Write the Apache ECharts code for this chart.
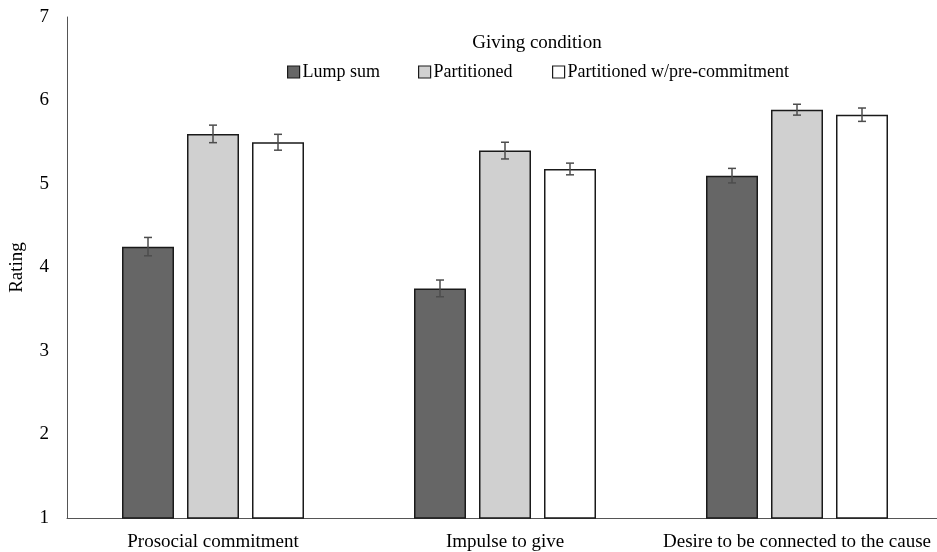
<!DOCTYPE html>
<html>
<head>
<meta charset="utf-8">
<script src="https://cdn.jsdelivr.net/npm/echarts@6/dist/echarts.min.js"></script>
<style>
html,body{margin:0;padding:0;background:#fff;overflow:hidden;width:937px;height:552px;}
#chart{width:943px;height:552px;}
</style>
</head>
<body>
<div id="chart"></div>
<script>
var categories = ['Prosocial commitment', 'Impulse to give', 'Desire to be connected to the cause'];
var seriesNames = ['Lump sum', 'Partitioned', 'Partitioned w/pre-commitment'];
var lumpSum = [4.25, 3.75, 5.10];
var partitioned = [5.60, 5.40, 5.89];
var preCommit = [5.50, 5.18, 5.83];
var lumpSumErr = [0.11, 0.10, 0.087];
var partitionedErr = [0.105, 0.10, 0.065];
var preCommitErr = [0.095, 0.07, 0.08];
var yTicks = [1, 2, 3, 4, 5, 6, 7];

var values = [lumpSum, partitioned, preCommit];
var errors = [lumpSumErr, partitionedErr, preCommitErr];
var fills = ['#666666', '#d0d0d0', '#ffffff'];
var legendLefts = [287, 418, 552];
var BAR_W = 52, BAR_GAP = 13;

var chart = echarts.init(document.getElementById('chart'));
var font = '"Liberation Serif", "Times New Roman", serif';

var series = [];
seriesNames.forEach(function (name, i) {
  series.push({
    name: name,
    type: 'bar',
    data: values[i],
    barWidth: BAR_W,
    barGap: (BAR_GAP / BAR_W * 100) + '%',
    itemStyle: { color: fills[i], borderColor: '#1a1a1a', borderWidth: 1.5 },
    emphasis: { disabled: true }
  });
});
seriesNames.forEach(function (name, i) {
  series.push({
    type: 'custom',
    silent: true,
    z: 10,
    data: values[i].map(function (v, k) { return [k, v - errors[i][k], v + errors[i][k]]; }),
    renderItem: function (params, api) {
      var c = api.value(0);
      var lo = api.coord([c, api.value(1)]);
      var hi = api.coord([c, api.value(2)]);
      var x = lo[0] + (i - 1) * (BAR_W + BAR_GAP);
      var cap = 4;
      var st = { stroke: '#4d4d4d', lineWidth: 1.5 };
      return {
        type: 'group',
        children: [
          { type: 'line', shape: { x1: x, y1: lo[1], x2: x, y2: hi[1] }, style: st },
          { type: 'line', shape: { x1: x - cap, y1: lo[1], x2: x + cap, y2: lo[1] }, style: st },
          { type: 'line', shape: { x1: x - cap, y1: hi[1], x2: x + cap, y2: hi[1] }, style: st }
        ]
      };
    }
  });
});

var legends = seriesNames.map(function (name, i) {
  return {
    data: [name],
    left: legendLefts[i], top: 63,
    itemWidth: 12, itemHeight: 12, itemGap: 0,
    icon: 'rect',
    padding: 0,
    textStyle: { fontFamily: font, fontSize: 18, color: '#000', padding: [0, 0, 0, -2] },
    itemStyle: { borderColor: '#1a1a1a', borderWidth: 1.2 }
  };
});

chart.setOption({
  animation: false,
  backgroundColor: '#ffffff',
  title: {
    text: 'Giving condition',
    left: 532, top: 29, textAlign: 'center',
    textStyle: { fontFamily: font, fontSize: 19, fontWeight: 'normal', color: '#000' }
  },
  legend: legends,
  grid: { left: 67, right: 0, top: 17, bottom: 33, containLabel: false },
  xAxis: {
    type: 'category',
    data: categories,
    axisLine: { lineStyle: { color: '#555', width: 1 } },
    axisTick: { show: false },
    axisLabel: { fontFamily: font, fontSize: 19, color: '#000', margin: 15, interval: 0 }
  },
  yAxis: {
    type: 'value',
    min: yTicks[0], max: yTicks[yTicks.length - 1], interval: 1,
    name: 'Rating', nameLocation: 'middle', nameGap: 40, nameRotate: 90,
    nameTextStyle: { fontFamily: font, fontSize: 19, color: '#000' },
    axisLine: { show: true, lineStyle: { color: '#555', width: 1 } },
    axisTick: { show: false },
    splitLine: { show: false },
    axisLabel: { fontFamily: font, fontSize: 19, color: '#000', margin: 18 }
  },
  series: series
});
</script>
</body>
</html>
